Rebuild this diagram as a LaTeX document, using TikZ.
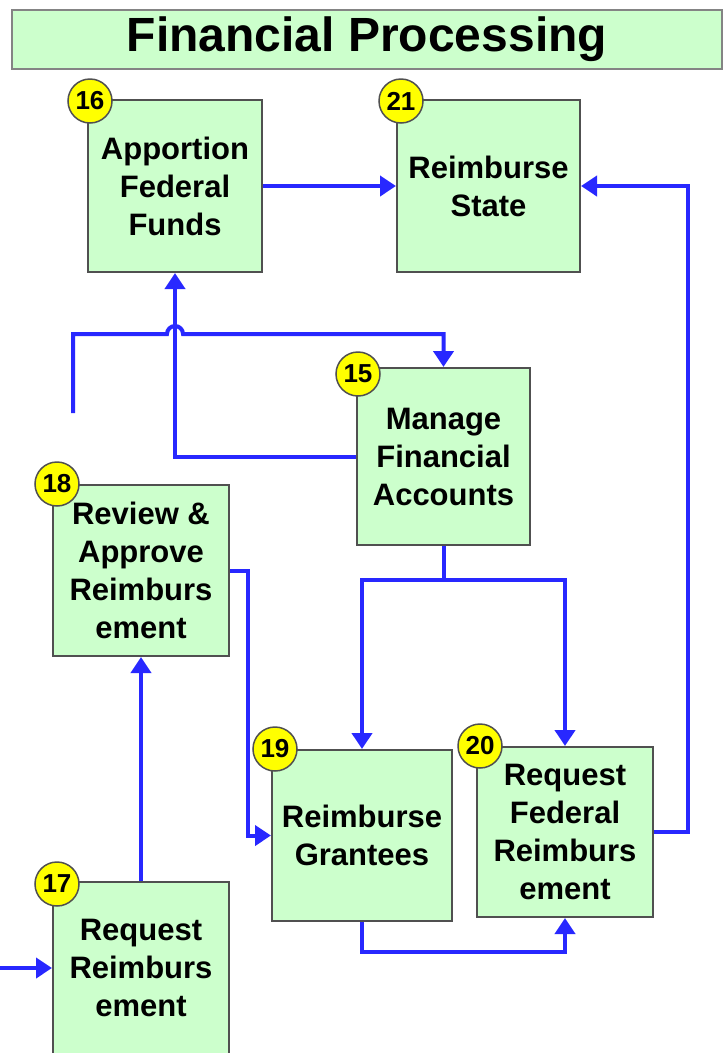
\documentclass[tikz,border=0pt]{standalone}
\usepackage{fontspec}
\setmainfont{Liberation Sans}
\usetikzlibrary{arrows.meta}
\definecolor{boxgreen}{RGB}{204,255,204}
\definecolor{boxedge}{RGB}{80,80,80}
\definecolor{flowblue}{RGB}{40,40,255}
\definecolor{badgeyellow}{RGB}{255,255,0}
\tikzset{
  stepbox/.style={rectangle, draw=boxedge, line width=2pt, fill=boxgreen, inner sep=0pt,
    align=center, font=\fontsize{31}{38}\selectfont\bfseries},
  titlebox/.style={rectangle, draw=boxedge!70, line width=2pt, fill=boxgreen, inner sep=0pt,
    minimum width=710, minimum height=59, font=\fontsize{48}{56}\selectfont\bfseries},
  badge/.style={circle, draw=boxedge, line width=1.5pt, fill=badgeyellow, inner sep=0pt,
    minimum size=44pt, font=\fontsize{26}{28}\selectfont\bfseries},
  flow/.style={draw=flowblue, line width=4pt, -{Triangle[width=20pt,length=16pt]}},
  flowplain/.style={draw=flowblue, line width=4pt}
}
\begin{document}
\begin{tikzpicture}[x=1pt,y=-1pt]
\useasboundingbox (0,0) rectangle (726,1053);
\clip (0,0) rectangle (726,1053);
\node[titlebox] (title) at (367,39) {Financial Processing};

\node[stepbox, minimum width=174pt, minimum height=172pt] (b16) at (175,186) {Apportion\\Federal\\Funds};
\node[stepbox, minimum width=183pt, minimum height=172pt] (b21) at (488.5,186) {Reimburse\\State};
\node[stepbox, minimum width=173pt, minimum height=177pt] (b15) at (443.5,456.5) {Manage\\Financial\\Accounts};
\node[stepbox, minimum width=176pt, minimum height=171pt] (b18) at (141,570.5) {Review \&\\Approve\\Reimburs\\ement};
\node[stepbox, minimum width=180pt, minimum height=171pt] (b19) at (362,835.5) {Reimburse\\Grantees};
\node[stepbox, minimum width=176pt, minimum height=170pt] (b20) at (565,832) {Request\\Federal\\Reimburs\\ement};
\node[stepbox, minimum width=176pt, minimum height=172pt] (b17) at (141,968) {Request\\Reimburs\\ement};

\coordinate (stub) at (73,413);
\coordinate (entry) at (0,968);

% connectors
\draw[flow] (b16) -- (b21);
\draw[flow] (b15.west) -| (b16.south);
\draw[flow] (stub) -- (73,334) -- (167,334) arc[start angle=180, end angle=0, radius=8pt] -- (443.5,334) -- (b15.north);
\draw[flowplain] (b15.south) -- (443.5,580);
\draw[flow] (443.5,580) -| (b19.north);
\draw[flow] (443.5,580) -| (b20.north);
\draw[flow] (b18.east) -- (248,570.5) |- (b19.west);
\draw[flow] (b17.north) -- (b18.south);
\draw[flow] (entry) -- (b17.west);
\draw[flow] (b19.south) -- (362,952) -| (b20.south);
\draw[flow] (b20.east) -- (688,832) |- (b21.east);

% badges
\node[badge] (n16) at (90,101) {16};
\node[badge] (n21) at (401,101) {21};
\node[badge] (n15) at (358,374) {15};
\node[badge] (n18) at (57,484) {18};
\node[badge] (n19) at (275,749) {19};
\node[badge] (n20) at (480,746) {20};
\node[badge] (n17) at (57,884) {17};
\end{tikzpicture}
\end{document}
